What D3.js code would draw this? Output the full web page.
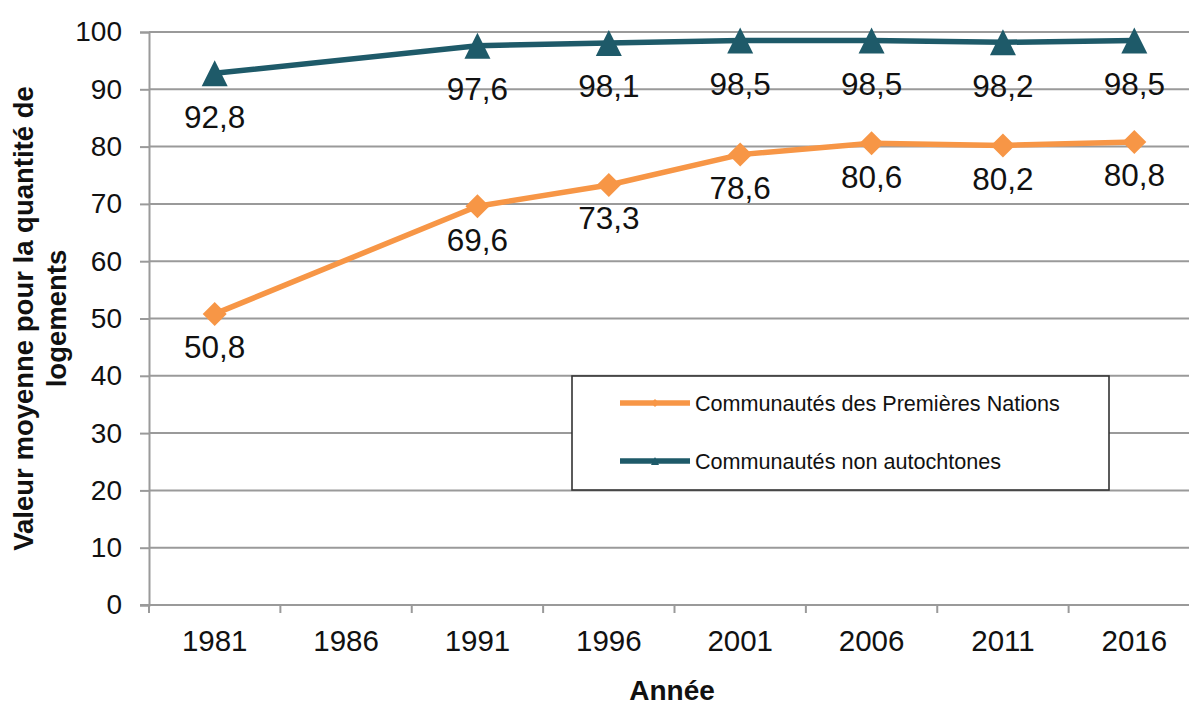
<!DOCTYPE html>
<html lang="fr">
<head>
<meta charset="utf-8">
<script src="https://cdn.jsdelivr.net/npm/d3@7/dist/d3.min.js"></script>
<style>
  html, body { margin: 0; padding: 0; background: #ffffff; }
  svg { display: block; font-family: "Liberation Sans", Arial, sans-serif; }
</style>
</head>
<body>
<svg id="chart" width="1189" height="705"></svg>
<script>
// Census years on the horizontal axis (1986 has no value for either series)
const years = ["1981", "1986", "1991", "1996", "2001", "2006", "2011", "2016"];
// Mean value for housing quantity, First Nations communities
const premieresNations = [50.8, null, 69.6, 73.3, 78.6, 80.6, 80.2, 80.8];
// Mean value for housing quantity, non-Indigenous communities
const nonAutochtones = [92.8, null, 97.6, 98.1, 98.5, 98.5, 98.2, 98.5];
// Vertical axis ticks
const yTicks = [0, 10, 20, 30, 40, 50, 60, 70, 80, 90, 100];
const seriesNames = ["Communautés des Premières Nations", "Communautés non autochtones"];

const svg = d3.select("#chart");
const plotLeft = 149, plotRight = 1200, plotTop = 32, plotBottom = 605;
const gridColor = "#9a9a9a";
const orange = "#f79646";
const teal = "#1e5a69";
const textColor = "#111111";

const x = d3.scaleBand().domain(years).range([plotLeft, plotRight]).padding(0);
const y = d3.scaleLinear().domain([0, 100]).range([plotBottom, plotTop]);
const cx = d => x(d) + x.bandwidth() / 2;

// Horizontal grid lines
svg.append("g")
  .selectAll("line")
  .data(yTicks.filter(t => t > 0))
  .join("line")
  .attr("x1", plotLeft).attr("x2", plotRight)
  .attr("y1", d => y(d)).attr("y2", d => y(d))
  .attr("stroke", gridColor).attr("stroke-width", 2);

// Y axis
const yAxis = svg.append("g")
  .attr("transform", `translate(${plotLeft},0)`)
  .call(d3.axisLeft(y).tickValues(yTicks).tickSize(9).tickPadding(18).tickFormat(d3.format("d")));
yAxis.select(".domain").attr("stroke", gridColor).attr("stroke-width", 2);
yAxis.selectAll(".tick line").attr("stroke", gridColor).attr("stroke-width", 2);
yAxis.selectAll(".tick text")
  .attr("fill", textColor).attr("font-size", 28)
  .attr("font-family", "Liberation Sans, Arial, sans-serif");

// X axis: labels centred in each category, tick marks between categories
const xAxis = svg.append("g")
  .attr("transform", `translate(0,${plotBottom})`)
  .call(d3.axisBottom(x).tickSize(0).tickPadding(25));
xAxis.select(".domain").remove();
xAxis.selectAll(".tick text")
  .attr("fill", textColor).attr("font-size", 29.5)
  .attr("font-family", "Liberation Sans, Arial, sans-serif");

svg.append("line")
  .attr("x1", plotLeft - 9).attr("x2", plotRight)
  .attr("y1", plotBottom).attr("y2", plotBottom)
  .attr("stroke", gridColor).attr("stroke-width", 2);

svg.append("g")
  .selectAll("line")
  .data(years)
  .join("line")
  .attr("x1", d => x(d)).attr("x2", d => x(d))
  .attr("y1", plotBottom).attr("y2", plotBottom + 8)
  .attr("stroke", gridColor).attr("stroke-width", 2);

// Series
const series = [
  { name: seriesNames[0], values: premieresNations, color: orange, marker: "diamond", size: 12, labelDy: 33 },
  { name: seriesNames[1], values: nonAutochtones, color: teal, marker: "triangle", size: 13, labelDy: 43 }
];

const line = d3.line().x(d => cx(d.year)).y(d => y(d.value));

// Diamond / triangle paths sized by half-extent
function markerPath(type, r) {
  if (type === "diamond") {
    return `M0,${-r}L${r},0L0,${r}L${-r},0Z`;
  }
  return `M0,${-r}L${r},${r}L${-r},${r}Z`;
}

series.forEach(s => {
  const pts = years.map((yr, i) => ({ year: yr, value: s.values[i] })).filter(d => d.value !== null);
  const g = svg.append("g");
  g.append("path")
    .datum(pts)
    .attr("d", line)
    .attr("fill", "none")
    .attr("stroke", s.color)
    .attr("stroke-width", 5.5)
    .attr("stroke-linejoin", "round");
  g.selectAll("path.m")
    .data(pts)
    .join("path")
    .attr("class", "m")
    .attr("transform", d => `translate(${cx(d.year)},${y(d.value)})`)
    .attr("d", markerPath(s.marker, s.size))
    .attr("fill", s.color);
  g.selectAll("text")
    .data(pts)
    .join("text")
    .attr("x", d => cx(d.year))
    .attr("y", d => y(d.value) + s.labelDy)
    .attr("dy", "0.36em")
    .attr("text-anchor", "middle")
    .attr("font-size", 31.5)
    .attr("fill", textColor)
    .text(d => d3.format(".1f")(d.value).replace(".", ","));
});

// Legend
const lg = svg.append("g");
lg.append("rect")
  .attr("x", 572).attr("y", 376).attr("width", 537).attr("height", 114)
  .attr("fill", "#ffffff").attr("stroke", "#333333").attr("stroke-width", 1.6);
series.forEach((s, i) => {
  const ly = 403 + i * 58;
  lg.append("line")
    .attr("x1", 620).attr("x2", 690).attr("y1", ly).attr("y2", ly)
    .attr("stroke", s.color).attr("stroke-width", 5.5);
  lg.append("path")
    .attr("transform", `translate(655,${ly})`)
    .attr("d", markerPath(s.marker, 4))
    .attr("fill", s.color);
  lg.append("text")
    .attr("x", 695).attr("y", ly).attr("dy", "0.36em")
    .attr("font-size", 21.6).attr("fill", textColor)
    .text(s.name);
});

// Axis titles
svg.append("text")
  .attr("x", 672).attr("y", 700)
  .attr("text-anchor", "middle")
  .attr("font-size", 28).attr("font-weight", "bold").attr("fill", textColor)
  .text("Année");

const yt = svg.append("text")
  .attr("transform", `translate(0,${(plotTop + plotBottom) / 2}) rotate(-90)`)
  .attr("text-anchor", "middle")
  .attr("font-size", 27.5).attr("font-weight", "bold").attr("fill", textColor);
yt.append("tspan").attr("x", 0).attr("y", 33).text("Valeur moyenne pour la quantité de");
yt.append("tspan").attr("x", 0).attr("y", 66).text("logements");
</script>
</body>
</html>
